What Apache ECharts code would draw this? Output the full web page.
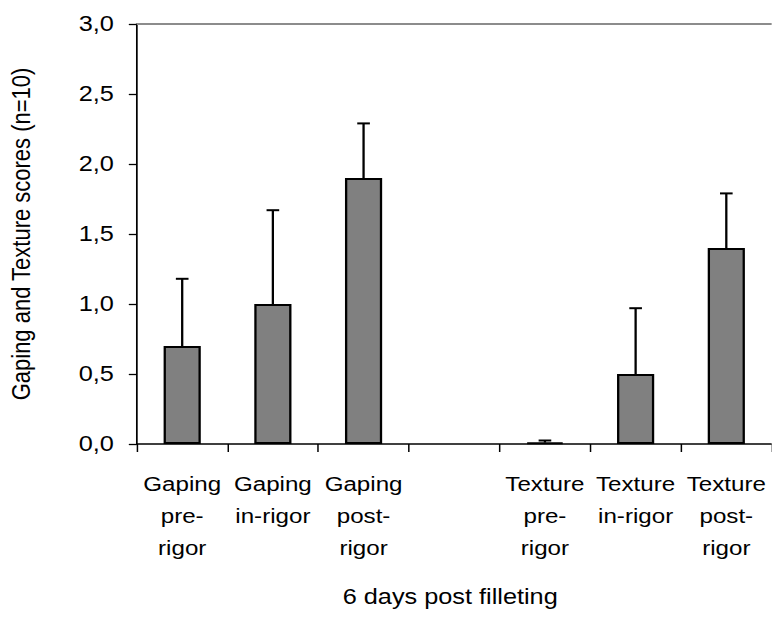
<!DOCTYPE html>
<html>
<head>
<meta charset="utf-8">
<script src="https://cdn.jsdelivr.net/npm/echarts@6/dist/echarts.min.js"></script>
<style>
  html, body { margin: 0; padding: 0; background: #fff; overflow: hidden; }
  #wrap { width: 772px; height: 630px; overflow: hidden; }
  #chart { width: 671.3px; height: 630px; transform: scaleX(1.15); transform-origin: 0 0; }
</style>
</head>
<body>
<div id="wrap"><div id="chart"></div></div>
<script>
const categories = ["Gaping\npre-\nrigor", "Gaping\nin-rigor", "Gaping\npost-\nrigor", "", "Texture\npre-\nrigor", "Texture\nin-rigor", "Texture\npost-\nrigor"];
const means = [0.7, 1.0, 1.9, null, 0.01, 0.5, 1.4];
const errors = [0.48, 0.67, 0.39, null, 0.015, 0.47, 0.39];
const yTicks = [0, 0.5, 1.0, 1.5, 2.0, 2.5, 3.0];
const xTitle = "6 days post filleting";
const yTitle = "Gaping and Texture scores (n=10)";

const FONT = "'Liberation Sans', Arial, sans-serif";
const errData = [];
means.forEach((m, i) => { if (m !== null) errData.push([i, m, errors[i]]); });

const chart = echarts.init(document.getElementById('chart'), null, { renderer: 'svg' });
chart.setOption({
  animation: false,
  backgroundColor: '#fff',
  textStyle: { fontFamily: FONT },
  grid: { left: 113.9, top: 24, width: 560, height: 420 },
  xAxis: [{
    type: 'category',
    data: categories,
    position: 'bottom',
    boundaryGap: true,
    axisLine: { lineStyle: { color: '#000', width: 1.5 } },
    axisTick: { show: true, alignWithLabel: false, length: 8, lineStyle: { color: '#000', width: 1.3 } },
    axisLabel: { interval: 0, color: '#000', fontSize: 21, lineHeight: 32, margin: 24, fontFamily: FONT, align: 'center' },
    name: xTitle,
    nameLocation: 'middle',
    nameGap: 142,
    nameTextStyle: { color: '#000', fontSize: 22, fontFamily: FONT, padding: [0, 7, 0, 0] }
  }, {
    type: 'category',
    data: categories,
    position: 'top',
    axisLine: { lineStyle: { color: '#8c8c8c', width: 2 } },
    axisTick: { show: false },
    axisLabel: { show: false }
  }],
  yAxis: {
    type: 'value',
    min: 0,
    max: 3,
    interval: 0.5,
    axisLine: { show: true, lineStyle: { color: '#000', width: 1.5 } },
    axisTick: { show: true, length: 7, lineStyle: { color: '#000', width: 1.3 } },
    splitLine: { show: false },
    axisLabel: {
      color: '#000', fontSize: 22, margin: 20, fontFamily: FONT,
      formatter: v => yTicks.includes(v) ? v.toFixed(1).replace('.', ',') : ''
    },
    name: yTitle,
    nameLocation: 'middle',
    nameGap: 89,
    nameTextStyle: { color: '#000', fontSize: 22, fontFamily: FONT }
  },
  series: [{
    type: 'bar',
    data: means,
    barWidth: '41%',
    itemStyle: { color: '#808080', borderColor: '#000', borderWidth: 2 },
    z: 2
  }, {
    type: 'custom',
    data: errData,
    z: 3,
    renderItem: function (params, api) {
      const x = api.value(0), m = api.value(1), e = api.value(2);
      const base = api.coord([x, m]);
      const top = api.coord([x, m + e]);
      const hw = 5.5;
      return {
        type: 'group',
        children: [
          { type: 'line', shape: { x1: base[0], y1: base[1], x2: top[0], y2: top[1] }, style: { stroke: '#000', lineWidth: 2 } },
          { type: 'line', shape: { x1: top[0] - hw, y1: top[1], x2: top[0] + hw, y2: top[1] }, style: { stroke: '#000', lineWidth: 2 } }
        ]
      };
    }
  }]
});
</script>
</body>
</html>
